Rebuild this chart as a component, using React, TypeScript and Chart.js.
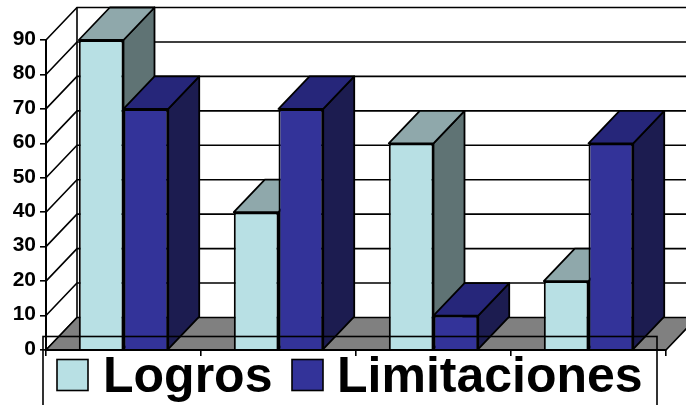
import React, { useEffect, useRef } from "react";
import { Chart, registerables } from "chart.js";

Chart.register(...registerables);

const categories = ["", "", "", ""];
const logros = [90, 40, 60, 20];
const limitaciones = [70, 70, 10, 60];
const yTicks = [0, 10, 20, 30, 40, 50, 60, 70, 80, 90];

const DX = 31;
const DY = 32.5;
const FONT = '"Liberation Sans", Arial, sans-serif';

const depthStyles = [
  { top: "#8FA8AB", side: "#5F7374" },
  { top: "#26267A", side: "#1C1C50" },
];

function poly(ctx: CanvasRenderingContext2D, pts: number[][], fill: string | null) {
  ctx.beginPath();
  pts.forEach((p, i) => (i ? ctx.lineTo(p[0], p[1]) : ctx.moveTo(p[0], p[1])));
  ctx.closePath();
  if (fill) {
    ctx.fillStyle = fill;
    ctx.fill();
  }
  ctx.stroke();
}

const threeD = {
  id: "threeD",
  beforeDraw(chart: any) {
    const { ctx, chartArea: a, scales } = chart;
    const y = scales.y;
    ctx.save();
    ctx.fillStyle = "#ffffff";
    ctx.fillRect(0, 0, chart.width, chart.height);
    ctx.strokeStyle = "#000000";
    ctx.lineWidth = 1.6;
    const far = a.right + DX;
    yTicks.forEach((t) => {
      const py = y.getPixelForValue(t);
      ctx.beginPath();
      ctx.moveTo(a.left, py);
      ctx.lineTo(a.left + DX, py - DY);
      if (t > 0) ctx.lineTo(far, py - DY);
      ctx.stroke();
    });
    ctx.beginPath();
    ctx.moveTo(a.left + DX, a.top - DY);
    ctx.lineTo(a.left + DX, a.bottom - DY);
    ctx.stroke();
    poly(
      ctx,
      [
        [a.left, a.bottom],
        [a.left + DX, a.bottom - DY],
        [far, a.bottom - DY],
        [a.right, a.bottom],
      ],
      "#808080"
    );
    ctx.restore();
  },
  beforeDatasetsDraw(chart: any) {
    const { ctx } = chart;
    ctx.save();
    ctx.strokeStyle = "#000000";
    ctx.lineWidth = 1.8;
    ctx.lineJoin = "round";
    chart.data.datasets.forEach((_: any, di: number) => {
      chart.getDatasetMeta(di).data.forEach((bar: any) => {
        const { x, y, base, width } = bar.getProps(["x", "y", "base", "width"], true);
        const l = x - width / 2;
        const r = x + width / 2;
        poly(
          ctx,
          [
            [r, y],
            [r + DX, y - DY],
            [r + DX, base - DY],
            [r, base],
          ],
          depthStyles[di].side
        );
        poly(
          ctx,
          [
            [l, y],
            [l + DX, y - DY],
            [r + DX, y - DY],
            [r, y],
          ],
          depthStyles[di].top
        );
      });
    });
    ctx.restore();
  },
  afterDraw(chart: any) {
    const { ctx } = chart;
    ctx.save();
    ctx.strokeStyle = "#000000";
    ctx.lineWidth = 1.6;
    ctx.strokeRect(43, 336.5, 614, 90);
    const swatches = [57, 292];
    const textX = [103, 337];
    ctx.font = `bold 50px ${FONT}`;
    ctx.textBaseline = "alphabetic";
    ctx.textAlign = "left";
    chart.data.datasets.forEach((d: any, i: number) => {
      ctx.fillStyle = d.backgroundColor;
      ctx.fillRect(swatches[i], 359.5, 31, 31);
      ctx.strokeRect(swatches[i], 359.5, 31, 31);
      ctx.fillStyle = "#000000";
      ctx.fillText(d.label, textX[i], 392);
    });
    ctx.restore();
  },
};

export default function App() {
  const ref = useRef<HTMLCanvasElement>(null);
  useEffect(() => {
    const chart = new Chart(ref.current as HTMLCanvasElement, {
      type: "bar",
      data: {
        labels: categories,
        datasets: [
          {
            label: "Logros",
            data: logros,
            backgroundColor: "#B8E0E4",
            borderColor: "#000000",
            borderWidth: 2,
            borderSkipped: "start",
            categoryPercentage: 0.577,
            barPercentage: 1,
          },
          {
            label: "Limitaciones",
            data: limitaciones,
            backgroundColor: "#333399",
            borderColor: "#000000",
            borderWidth: 2,
            borderSkipped: "start",
            categoryPercentage: 0.577,
            barPercentage: 1,
          },
        ],
      },
      options: {
        responsive: false,
        animation: false,
        layout: { padding: { left: 0, right: 20, top: 40, bottom: 0 } },
        plugins: { legend: { display: false }, tooltip: { enabled: false }, title: { display: false } },
        scales: {
          x: {
            afterFit: (s: any) => {
              s.height = 55;
            },
            grid: { drawOnChartArea: false, color: "#000000", tickLength: 6, lineWidth: 1.6 },
            border: { color: "#000000", width: 2, z: 1 },
            ticks: { display: false },
          },
          y: {
            min: 0,
            max: 90,
            afterFit: (s: any) => {
              s.width = 46;
            },
            afterBuildTicks: (s: any) => {
              s.ticks = yTicks.map((value) => ({ value }));
            },
            grid: { drawOnChartArea: false, color: "#000000", tickLength: 6, lineWidth: 1.6 },
            border: { color: "#000000", width: 2 },
            ticks: {
              color: "#000000",
              padding: 4,
              labelOffset: -1,
              font: { family: FONT, weight: "bold", size: 21 },
            },
          },
        },
      },
      plugins: [threeD],
    } as any);
    return () => chart.destroy();
  }, []);
  return (
    <canvas
      ref={ref}
      width={686}
      height={405}
      style={{ position: "absolute", left: 0, top: 0, display: "block", width: 686, height: 405 }}
    />
  );
}
